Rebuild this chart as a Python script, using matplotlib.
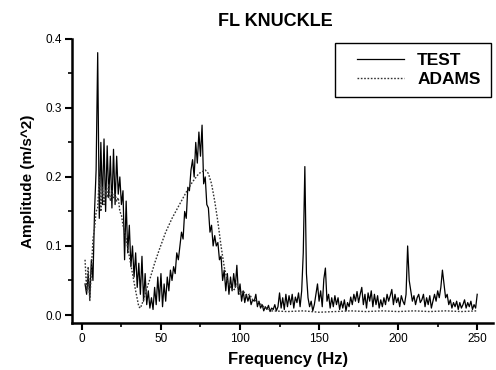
import matplotlib
matplotlib.use("Agg")
import matplotlib.pyplot as plt
from matplotlib.ticker import MultipleLocator
from matplotlib.legend_handler import HandlerLine2D
import numpy as np

plt.rcParams['font.family'] = ['Liberation Sans', 'DejaVu Sans']

# TEST spectrum, 1 Hz steps from 2 Hz to 250 Hz
test_freq = np.arange(2, 251)
test_amp = [
    0.045, 0.03, 0.06, 0.025, 0.08, 0.05, 0.15, 0.21,                 # 2-9
    0.38, 0.14, 0.25, 0.16, 0.255, 0.15, 0.245, 0.17, 0.23, 0.155,   # 10-19
    0.24, 0.16, 0.23, 0.175, 0.2, 0.16, 0.18, 0.08, 0.165, 0.09,     # 20-29
    0.13, 0.07, 0.1, 0.055, 0.09, 0.04, 0.075, 0.03, 0.085, 0.02,    # 30-39
    0.06, 0.015, 0.035, 0.01, 0.025, 0.008, 0.04, 0.015, 0.055, 0.02,  # 40-49
    0.06, 0.012, 0.045, 0.02, 0.055, 0.035, 0.065, 0.05, 0.07, 0.06,   # 50-59
    0.09, 0.08, 0.1, 0.12, 0.11, 0.15, 0.14, 0.185, 0.18, 0.21,      # 60-69
    0.225, 0.2, 0.25, 0.22, 0.265, 0.23, 0.275, 0.19, 0.2, 0.16,     # 70-79
    0.155, 0.12, 0.13, 0.1, 0.115, 0.1, 0.105, 0.08, 0.085, 0.05,    # 80-89
    0.065, 0.035, 0.06, 0.03, 0.055, 0.035, 0.06, 0.04, 0.072, 0.03,   # 90-99
    0.045, 0.02, 0.035, 0.018, 0.03, 0.02, 0.028, 0.015, 0.022, 0.02,  # 100-109
    0.03, 0.012, 0.02, 0.01, 0.015, 0.006, 0.012, 0.008, 0.014, 0.005,  # 110-119
    0.01, 0.008, 0.015, 0.006, 0.012, 0.032, 0.01, 0.025, 0.008, 0.03,  # 120-129
    0.012, 0.028, 0.015, 0.03, 0.01, 0.026, 0.018, 0.032, 0.012, 0.035,  # 130-139
    0.09, 0.215, 0.06, 0.025, 0.012, 0.02, 0.006, 0.015, 0.03, 0.045,  # 140-149
    0.02, 0.035, 0.012, 0.052, 0.068, 0.02, 0.03, 0.01, 0.025, 0.012,  # 150-159
    0.028, 0.015, 0.025, 0.008, 0.02, 0.01, 0.022, 0.006, 0.018, 0.012,  # 160-169
    0.026, 0.015, 0.03, 0.02, 0.034, 0.018, 0.03, 0.04, 0.015, 0.03,   # 170-179
    0.01, 0.032, 0.02, 0.035, 0.012, 0.03, 0.015, 0.028, 0.01, 0.022,  # 180-189
    0.012, 0.025, 0.015, 0.03, 0.02, 0.028, 0.037, 0.015, 0.03, 0.018,  # 190-199
    0.025, 0.012, 0.028, 0.02, 0.015, 0.03, 0.1, 0.05, 0.035, 0.02,    # 200-209
    0.028, 0.015, 0.025, 0.03, 0.018, 0.022, 0.03, 0.012, 0.025, 0.015,  # 210-219
    0.028, 0.01, 0.02, 0.03, 0.02, 0.035, 0.025, 0.04, 0.065, 0.045,   # 220-229
    0.025, 0.03, 0.015, 0.022, 0.01, 0.018, 0.012, 0.02, 0.008, 0.018,  # 230-239
    0.01, 0.015, 0.022, 0.01, 0.018, 0.012, 0.02, 0.008, 0.015, 0.01,  # 240-249
    0.03,                                                            # 250
]

# ADAMS simulation
adams_freq = [2, 3, 4, 5, 6, 7, 8, 9, 10, 11, 12, 13, 14, 15, 16, 17, 18, 19,
              20, 21, 22, 23, 24, 25, 26, 28, 30, 32, 34, 36, 37, 39, 41, 43,
              46, 49, 53, 57, 61, 66, 70, 74, 78, 80, 82, 84, 86, 88, 90, 92,
              94, 96, 98, 100, 102, 104, 106, 108, 111, 115, 120, 130, 140,
              150, 160, 170, 180, 190, 200, 210, 220, 230, 240, 250]
adams_amp = [0.08, 0.035, 0.07, 0.02, 0.065, 0.11, 0.125, 0.15, 0.155, 0.2,
             0.15, 0.185, 0.16, 0.18, 0.17, 0.19, 0.165, 0.18, 0.17, 0.175,
             0.165, 0.17, 0.15, 0.145, 0.13, 0.11, 0.085, 0.06, 0.035, 0.012,
             0.01, 0.022, 0.038, 0.052, 0.075, 0.095, 0.12, 0.14, 0.157, 0.178,
             0.193, 0.205, 0.21, 0.205, 0.19, 0.165, 0.135, 0.1, 0.07, 0.05,
             0.04, 0.035, 0.045, 0.03, 0.035, 0.028, 0.03, 0.022, 0.02, 0.012,
             0.006, 0.005, 0.006, 0.004, 0.005, 0.006, 0.005, 0.006, 0.005,
             0.006, 0.005, 0.006, 0.005, 0.006]

x_ticks = [0, 50, 100, 150, 200, 250]
y_ticks = [0.0, 0.1, 0.2, 0.3, 0.4]


class RightLineHandler(HandlerLine2D):
    # Legend line drawn only on the right part of the handle box
    def get_xdata(self, legend, xdescent, ydescent, width, height, fontsize):
        xdata, xdata_marker = super().get_xdata(legend, xdescent, ydescent, width, height, fontsize)
        xdata = np.array([-xdescent + 0.2 * width, -xdescent + width])
        return xdata, xdata_marker


fig = plt.figure(figsize=(4.96, 3.70), dpi=100)
ax = fig.add_axes([0.145, 0.127, 0.849, 0.768])

line_test, = ax.plot(test_freq, test_amp, color='black', linewidth=0.9, label='TEST')
line_adams, = ax.plot(adams_freq, adams_amp, color='#333333', linewidth=1.0,
                      linestyle=(0, (1.2, 1.2)), label='ADAMS')

ax.set_xlim(-6.3, 260)
ax.set_ylim(-0.0116, 0.4)
ax.set_xticks(x_ticks)
ax.set_yticks(y_ticks)
ax.xaxis.set_minor_locator(MultipleLocator(25))
ax.yaxis.set_minor_locator(MultipleLocator(0.05))
ax.set_xticklabels([str(v) for v in x_ticks])
ax.set_yticklabels([f"{v:.1f}" for v in y_ticks])

ax.spines['top'].set_visible(False)
ax.spines['right'].set_visible(False)
ax.spines['left'].set_linewidth(1.8)
ax.spines['bottom'].set_linewidth(1.8)
ax.tick_params(which='major', direction='out', length=5, width=1.5, labelsize=8.5, pad=2)
ax.tick_params(which='minor', direction='out', length=3, width=1.2)

# Add title and axis names
ax.set_title('FL KNUCKLE', fontsize=13, fontweight='bold', pad=9, x=0.483)
ax.set_xlabel('Frequency (Hz)', fontsize=12, fontweight='bold', labelpad=5)
ax.xaxis.label.set_x(0.513)
ax.set_ylabel('Amplitude (m/s^2)', fontsize=11, fontweight='bold', labelpad=8)

leg = ax.legend(loc='upper right', bbox_to_anchor=(0.995, 0.986), borderaxespad=0,
                fancybox=False, edgecolor='black', framealpha=1,
                prop={'weight': 'bold', 'size': 12.5}, handlelength=3.4,
                handletextpad=0.75, borderpad=0.6, labelspacing=0.2,
                handler_map={line_test: RightLineHandler(), line_adams: RightLineHandler()})
leg.get_frame().set_linewidth(1.0)

fig.savefig('out.png', dpi=100)
